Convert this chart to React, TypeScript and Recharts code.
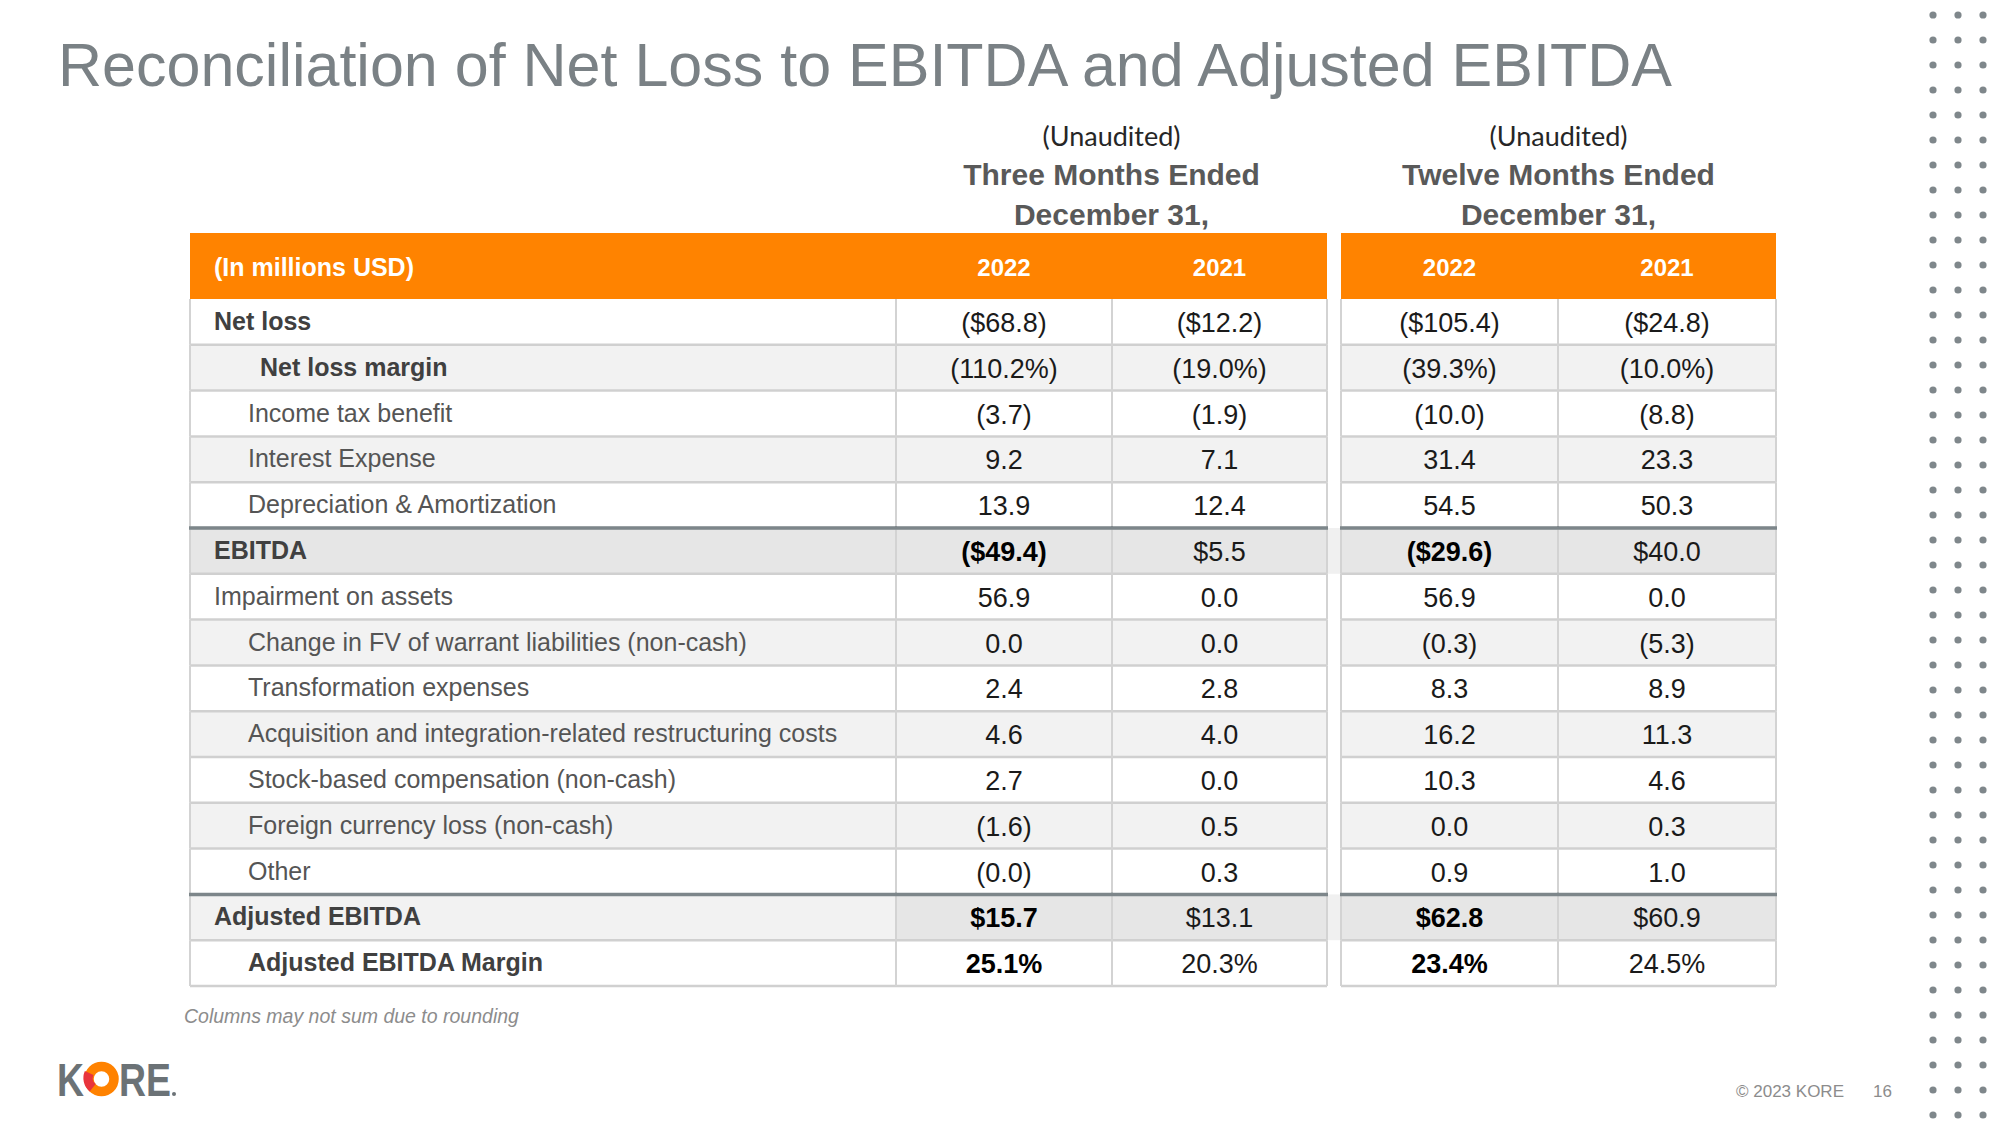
import React from 'react';
import { ScatterChart, Scatter, XAxis, YAxis } from 'recharts';

// --- data (in millions USD) ---
const rowLabels = [
  'Net loss',
  'Net loss margin',
  'Income tax benefit',
  'Interest Expense',
  'Depreciation & Amortization',
  'EBITDA',
  'Impairment on assets',
  'Change in FV of warrant liabilities (non-cash)',
  'Transformation expenses',
  'Acquisition and integration-related restructuring costs',
  'Stock-based compensation (non-cash)',
  'Foreign currency loss (non-cash)',
  'Other',
  'Adjusted EBITDA',
  'Adjusted EBITDA Margin',
];
// '$' = dollar amount, '%' = margin, '' = plain amount
const rowUnits = ['$', '%', '', '', '', '$', '', '', '', '', '', '', '', '$', '%'];

const periods = ['Three Months Ended', 'Twelve Months Ended'];
const periodEnd = 'December 31,';
const years = ['2022', '2021', '2022', '2021'];

const threeMonths2022 = [-68.8, -110.2, -3.7, 9.2, 13.9, -49.4, 56.9, 0.0, 2.4, 4.6, 2.7, -1.6, -0.0, 15.7, 25.1];
const threeMonths2021 = [-12.2, -19.0, -1.9, 7.1, 12.4, 5.5, 0.0, 0.0, 2.8, 4.0, 0.0, 0.5, 0.3, 13.1, 20.3];
const twelveMonths2022 = [-105.4, -39.3, -10.0, 31.4, 54.5, -29.6, 56.9, -0.3, 8.3, 16.2, 10.3, 0.0, 0.9, 62.8, 23.4];
const twelveMonths2021 = [-24.8, -10.0, -8.8, 23.3, 50.3, 40.0, 0.0, -5.3, 8.9, 11.3, 4.6, 0.3, 1.0, 60.9, 24.5];

const valueColumns = [threeMonths2022, threeMonths2021, twelveMonths2022, twelveMonths2021];

// --- layout & styles ---
const W = 2000;
const H = 1125;
const FONT = '"Liberation Sans", Arial, Helvetica, sans-serif';
const ORANGE = '#ff8300';
const HEADER_TOP = 233;
const TABLE_TOP = 299;
const ROW_H = 45.8;
const COLS = [
  { l: 190, r: 896 },
  { l: 896, r: 1112 },
  { l: 1112, r: 1327 },
  { l: 1341, r: 1558 },
  { l: 1558, r: 1776 },
];
const GAP = { l: 1327, r: 1341 };
const ROW_BOLD = [true, true, false, false, false, true, false, false, false, false, false, false, false, true, true];
const ROW_INDENT = [24, 70, 58, 58, 58, 24, 24, 58, 58, 58, 58, 58, 58, 24, 58];
const ROW_FILL = ['#ffffff', '#f2f2f2', '#ffffff', '#f2f2f2', '#ffffff', '#e6e6e6', '#ffffff', '#f2f2f2',
  '#ffffff', '#f2f2f2', '#ffffff', '#f2f2f2', '#ffffff', '#e6e6e6', '#ffffff'];
const LABEL_FILL_ADJ = '#f2f2f2';
const DARK_TOP_ROWS = [5, 13];
const BOLD_VALUE_ROWS = [5, 13, 14];

// y axis works in row index units: row i centre sits at TABLE_TOP + (i + 0.5) * ROW_H
const Y_MIN = -TABLE_TOP / ROW_H - 0.5;
const Y_MAX = (H - TABLE_TOP) / ROW_H - 0.5;
const HEADER_ROW = ((HEADER_TOP + TABLE_TOP) / 2 - TABLE_TOP) / ROW_H - 0.5;

const fmt = (v: number, unit: string) => {
  const neg = v < 0 || Object.is(v, -0);
  const body = (unit === '$' ? '$' : '') + Math.abs(v).toFixed(1) + (unit === '%' ? '%' : '');
  return neg ? `(${body})` : body;
};

type Cell = {
  x: number;
  y: number;
  w: number;
  h: number;
  kind: 'header' | 'label' | 'value' | 'gap';
  fill: string;
  text: string;
  bold: boolean;
  indent: number;
  darkTop: boolean;
};

const cells: Cell[] = [];

// orange header row
COLS.forEach((c, ci) => {
  cells.push({
    x: (c.l + c.r) / 2,
    y: HEADER_ROW,
    w: c.r - c.l,
    h: TABLE_TOP - HEADER_TOP,
    kind: 'header',
    fill: ORANGE,
    text: ci === 0 ? '(In millions USD)' : years[ci - 1],
    bold: true,
    indent: 24,
    darkTop: false,
  });
});

rowLabels.forEach((label, ri) => {
  const darkTop = DARK_TOP_ROWS.includes(ri);
  cells.push({
    x: (COLS[0].l + COLS[0].r) / 2,
    y: ri,
    w: COLS[0].r - COLS[0].l,
    h: ROW_H,
    kind: 'label',
    fill: ri === 13 ? LABEL_FILL_ADJ : ROW_FILL[ri],
    text: label,
    bold: ROW_BOLD[ri],
    indent: ROW_INDENT[ri],
    darkTop,
  });
  valueColumns.forEach((col, vi) => {
    const c = COLS[vi + 1];
    cells.push({
      x: (c.l + c.r) / 2,
      y: ri,
      w: c.r - c.l,
      h: ROW_H,
      kind: 'value',
      fill: ROW_FILL[ri],
      text: fmt(col[ri], rowUnits[ri]),
      bold: BOLD_VALUE_ROWS.includes(ri) && vi % 2 === 0,
      indent: 0,
      darkTop,
    });
  });
  if (darkTop) {
    cells.push({
      x: (GAP.l + GAP.r) / 2,
      y: ri,
      w: GAP.r - GAP.l,
      h: ROW_H,
      kind: 'gap',
      fill: '#f0f0f0',
      text: '',
      bold: false,
      indent: 0,
      darkTop: false,
    });
  }
});

const renderBg = (props: any) => {
  const { cx, cy, payload } = props;
  const c = payload as Cell;
  if (cx == null || cy == null) return <g />;
  return <rect x={cx - c.w / 2} y={cy - c.h / 2} width={c.w} height={c.h} fill={c.fill} />;
};

const renderCell = (props: any) => {
  const { cx, cy, payload } = props;
  const c = payload as Cell;
  if (cx == null || cy == null) return <g />;
  const l = cx - c.w / 2;
  const r = cx + c.w / 2;
  const t = cy - c.h / 2;
  const b = cy + c.h / 2;
  const grid = c.kind === 'label' || c.kind === 'value';
  let color = '#1a1a1a';
  if (c.kind === 'header') color = '#ffffff';
  else if (c.kind === 'label') color = c.bold ? '#404040' : '#555555';
  else if (c.bold) color = '#000000';
  const leftAligned = c.kind === 'label' || (c.kind === 'header' && c.text.startsWith('('));
  let size = 24;
  if (c.kind === 'value') size = 27;
  else if (c.kind === 'label') size = 25;
  else if (leftAligned) size = 25;
  return (
    <g>
      {grid && (
        <g>
          <line x1={l} x2={r} y1={b} y2={b} stroke="#d0d0d0" strokeWidth={2.5} />
          <line x1={l} x2={l} y1={t} y2={b} stroke="#d3d3d3" strokeWidth={2} />
          <line x1={r} x2={r} y1={t} y2={b} stroke="#d3d3d3" strokeWidth={2} />
          {c.darkTop && <line x1={l - 1} x2={r + 1} y1={t} y2={t} stroke="#7d868a" strokeWidth={3.5} />}
        </g>
      )}
      {c.text && (
        <text
          x={leftAligned ? l + c.indent : cx}
          y={c.kind === 'label' ? cy - 1 : cy + 1}
          textAnchor={leftAligned ? 'start' : 'middle'}
          dominantBaseline="central"
          fontFamily={FONT}
          fontSize={size}
          fontWeight={c.bold ? 700 : 400}
          fill={color}
        >
          {c.text}
        </text>
      )}
    </g>
  );
};

const DOT_XS = [1933, 1958, 1983];
const DOT_ROWS = 45;

const Decorations = () => {
  const dots: React.ReactElement[] = [];
  for (let r = 0; r < DOT_ROWS; r++) {
    DOT_XS.forEach((x, i) => {
      dots.push(<circle key={`d${r}-${i}`} cx={x} cy={15 + r * 25} r={3.6} fill="#7f878b" />);
    });
  }
  const groupCenters = [(COLS[1].l + COLS[2].r) / 2, (COLS[3].l + COLS[4].r) / 2];
  return (
    <svg width={W} height={H} style={{ position: 'absolute', left: 0, top: 0, pointerEvents: 'none' }}>
      <text x={58} y={86} fontFamily={FONT} fontSize={61} fill="#7a8185">
        Reconciliation of Net Loss to EBITDA and Adjusted EBITDA
      </text>
      {groupCenters.map((gx, i) => (
        <g key={`g${i}`}>
          <text x={gx} y={135} textAnchor="middle" dominantBaseline="central" fontFamily="Lato, 'Open Sans', sans-serif" fontSize={27} fill="#262626">
            (Unaudited)
          </text>
          <text x={gx} y={174} textAnchor="middle" dominantBaseline="central" fontFamily={FONT} fontSize={30} fontWeight={700} fill="#595959">
            {periods[i]}
          </text>
          <text x={gx} y={214} textAnchor="middle" dominantBaseline="central" fontFamily={FONT} fontSize={30} fontWeight={700} fill="#595959">
            {periodEnd}
          </text>
        </g>
      ))}
      <text x={184} y={1016} dominantBaseline="central" fontFamily={FONT} fontSize={19.5} fontStyle="italic" fill="#8c8c8c">
        Columns may not sum due to rounding
      </text>
      <text x={1736} y={1091} dominantBaseline="central" fontFamily={FONT} fontSize={17} fill="#8c8c8c">
        © 2023 KORE
      </text>
      <text x={1873} y={1091} dominantBaseline="central" fontFamily={FONT} fontSize={17} fill="#8c8c8c">
        16
      </text>
      {/* KORE logo */}
      <text x={57} y={1096} fontFamily={FONT} fontSize={47} fontWeight={900} fill="#6b7276" textLength={27} lengthAdjust="spacingAndGlyphs">
        K
      </text>
      <circle cx={101.5} cy={1079} r={12.5} fill="none" stroke="#ff8200" strokeWidth={9.5} />
      <path d="M 92.7 1087.8 A 12.5 12.5 0 0 1 89.2 1073" fill="none" stroke="#e8343c" strokeWidth={9.5} />
      <text x={119} y={1096} fontFamily={FONT} fontSize={47} fontWeight={900} fill="#6b7276" textLength={52} lengthAdjust="spacingAndGlyphs">
        RE
      </text>
      <circle cx={174} cy={1094} r={2} fill="#6b7276" />
      {dots}
    </svg>
  );
}

export default function App() {
  return (
    <div style={{ position: 'absolute', left: 0, top: 0, width: W, height: H, background: '#ffffff' }}>
      <ScatterChart width={W} height={H} margin={{ top: 0, right: 0, bottom: 0, left: 0 }}>
        <XAxis type="number" dataKey="x" domain={[0, W]} hide allowDataOverflow />
        <YAxis type="number" dataKey="y" domain={[Y_MIN, Y_MAX]} reversed hide allowDataOverflow />
        <Scatter data={cells} shape={renderBg} isAnimationActive={false} />
        <Scatter data={cells} shape={renderCell} isAnimationActive={false} />
      </ScatterChart>
      <Decorations />
    </div>
  );
}
